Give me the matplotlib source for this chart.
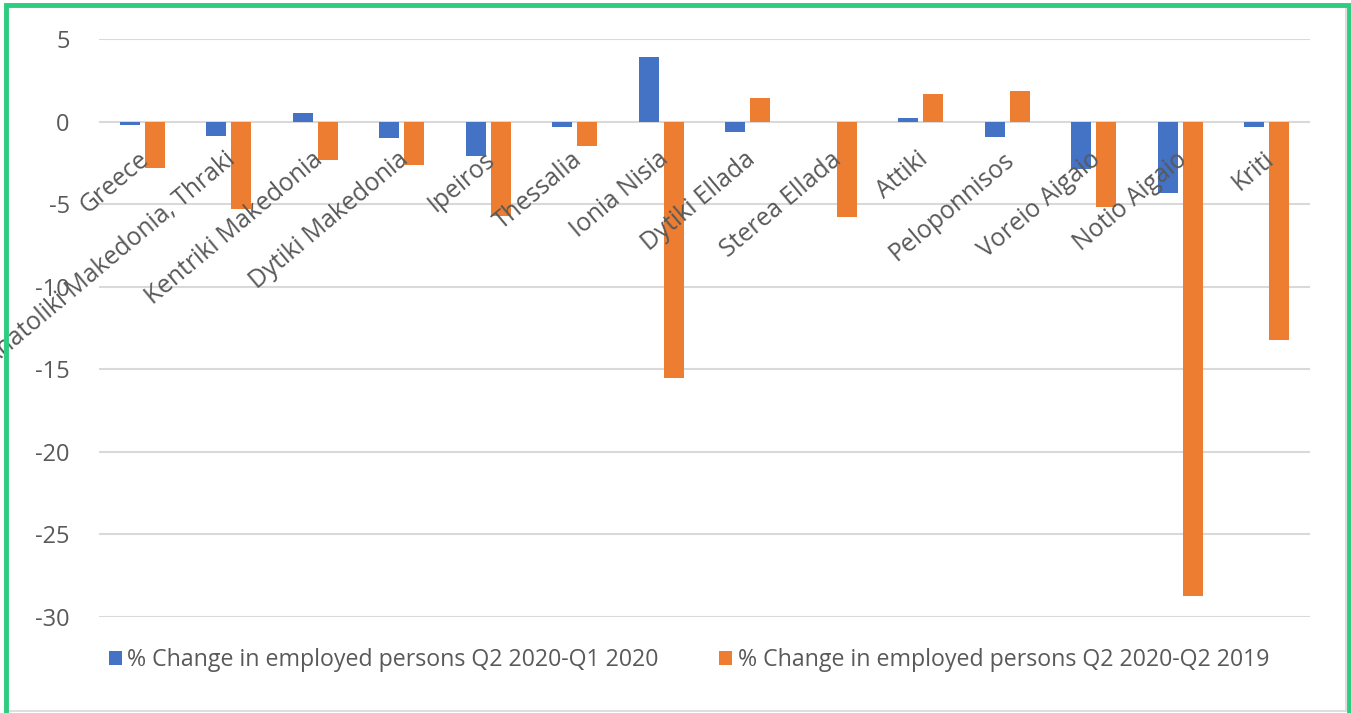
import numpy as np
import matplotlib.pyplot as plt
from matplotlib.patches import Rectangle

regions = ['Greece', 'Anatoliki Makedonia, Thraki', 'Kentriki Makedonia', 'Dytiki Makedonia',
           'Ipeiros', 'Thessalia', 'Ionia Nisia', 'Dytiki Ellada', 'Sterea Ellada', 'Attiki',
           'Peloponnisos', 'Voreio Aigaio', 'Notio Aigaio', 'Kriti']
chg_q1 = [-0.2, -0.9, 0.5, -1.0, -2.1, -0.3, 3.9, -0.65, -0.05, 0.2, -0.95, -2.9, -4.3, -0.3]
chg_yoy = [-2.8, -5.3, -2.3, -2.65, -5.7, -1.5, -15.55, 1.4, -5.75, 1.65, 1.85, -5.2, -28.7, -13.25]
series_names = ['% Change in employed persons Q2 2020-Q1 2020',
                '% Change in employed persons Q2 2020-Q2 2019']
yticks = [5, 0, -5, -10, -15, -20, -25, -30]

blue = '#4472C4'
orange = '#ED7D31'
grey_txt = '#595959'
font = ['Open Sans', 'DejaVu Sans']

fig = plt.figure(figsize=(13.51, 7.13), dpi=100)
ax = fig.add_axes([99/1351, 1-617/713, (1310-99)/1351, (617-39)/713])

x = np.arange(len(regions))
w = 0.23
ax.bar(x - 0.145, chg_q1, w, color=blue, label=series_names[0], zorder=3)
ax.bar(x + 0.145, chg_yoy, w, color=orange, label=series_names[1], zorder=3)

ax.set_xlim(-0.5, len(regions) - 0.5)
ax.set_ylim(-30, 5)
ax.set_yticks(yticks)
ax.set_yticklabels([str(v) for v in yticks], fontsize=17, color=grey_txt, family=font)
ax.yaxis.grid(True, color='#d9d9d9', lw=1.5, zorder=0)
ax.tick_params(axis='y', length=0, pad=21)
ax.set_xticks([])
for s in ax.spines.values():
    s.set_visible(False)

# category labels sit just under the zero line, drawn over the bars
for xi, name in zip(x, regions):
    ax.annotate(name, xy=(xi, 0), xytext=(4, -35), textcoords='offset pixels',
                rotation=40, ha='right', va='center', rotation_mode='anchor',
                fontsize=17.8, color=grey_txt, family=font, zorder=5,
                annotation_clip=False)

leg = fig.legend(loc='center left', bbox_to_anchor=(88/1351, 1-660/713), ncol=2, frameon=False,
                 handlelength=0.55, handleheight=0.55, handletextpad=0.25,
                 columnspacing=2.6, prop={'family': font, 'size': 16.7})
for t in leg.get_texts():
    t.set_color(grey_txt)

# chart-area border and outer green frame
fig.patches.append(Rectangle((0.004, 0.003), 0.992, 0.99, transform=fig.transFigure,
                             fill=False, ec='#d9d9d9', lw=1.2))
fig.patches.append(Rectangle((6/1351, -0.01), 1-8/1351, 1.01-5/713, transform=fig.transFigure,
                             fill=False, ec='#2ecc80', lw=3.5))

fig.savefig('out.png', dpi=100)
